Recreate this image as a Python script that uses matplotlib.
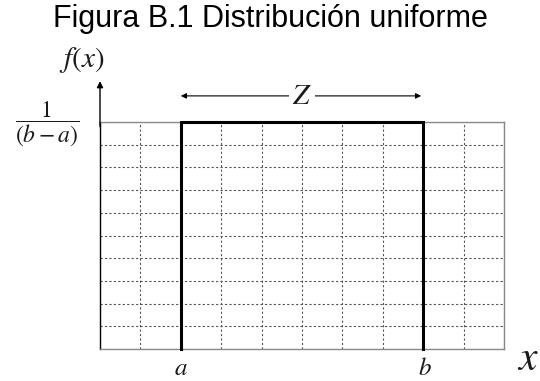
import numpy as np
import matplotlib.pyplot as plt

plt.rcParams['mathtext.fontset'] = 'stix'

# uniform density on [a, b], drawn on a 10 x 10 grid
x_min, x_max = 0, 10
a, b = 2, 8
height = 1.0
x_ticks = np.arange(0, 11, 1)
y_ticks = np.arange(0, 1.01, 0.1)

title = "Figura B.1 Distribución uniforme"

fig = plt.figure(figsize=(5.4, 3.81), dpi=100)
ax = fig.add_axes([100 / 540, 32 / 381, 404 / 540, 227 / 381])
ax.set_xlim(x_min, x_max)
ax.set_ylim(0, height)
ax.set_xticks(x_ticks)
ax.set_yticks(y_ticks)
ax.tick_params(length=0, labelbottom=False, labelleft=False)
ax.grid(True, color='#555555', linestyle=(0, (2, 2)), linewidth=0.8)

for side in ['top', 'right', 'bottom']:
    ax.spines[side].set_color('#8a8a8a')
    ax.spines[side].set_linewidth(1.0)
ax.spines['left'].set_color('black')
ax.spines['left'].set_linewidth(1.0)

# the density itself
ax.plot([a, a, b, b], [0, height, height, 0], color='black', lw=2.2,
        solid_joinstyle='miter', clip_on=False, zorder=5)

# vertical axis arrow
ax.annotate('', xy=(0, 1.18), xytext=(0, 0.98),
            arrowprops=dict(arrowstyle='-|>', color='black', lw=1.0,
                            mutation_scale=9, shrinkA=0, shrinkB=0),
            annotation_clip=False)

# width of the support
z_y = 1.115
ax.annotate('', xy=(a, z_y), xytext=(b - 0.05, z_y),
            arrowprops=dict(arrowstyle='<|-|>', color='black', lw=0.8,
                            mutation_scale=8, shrinkA=0, shrinkB=0),
            annotation_clip=False)
ax.text((a + b) / 2, z_y, r'$Z$', ha='center', va='center', fontsize=21,
        color='#1a1a1a', bbox=dict(facecolor='white', edgecolor='none', pad=2))

ax.text(-0.45, 1.275, r'$f(x)$', ha='center', va='center', fontsize=21,
        color='#1a1a1a', clip_on=False)
ax.text(-1.3, 0.995, r'$\dfrac{1}{(b-a)}$', ha='center', va='center',
        fontsize=17, color='#1a1a1a', clip_on=False)
ax.text(a, -0.085, r'$a$', ha='center', va='center', fontsize=18,
        color='#1a1a1a', clip_on=False)
ax.text(b + 0.05, -0.082, r'$b$', ha='center', va='center', fontsize=18,
        color='#1a1a1a', clip_on=False)
ax.text(10.6, -0.04, r'$x$', ha='center', va='center', fontsize=30,
        color='#1a1a1a', clip_on=False)

fig.text(0.5, 1 - 19 / 381, title, ha='center', va='center',
         fontsize=22, family='Liberation Sans')

fig.savefig('out.png', dpi=100)
